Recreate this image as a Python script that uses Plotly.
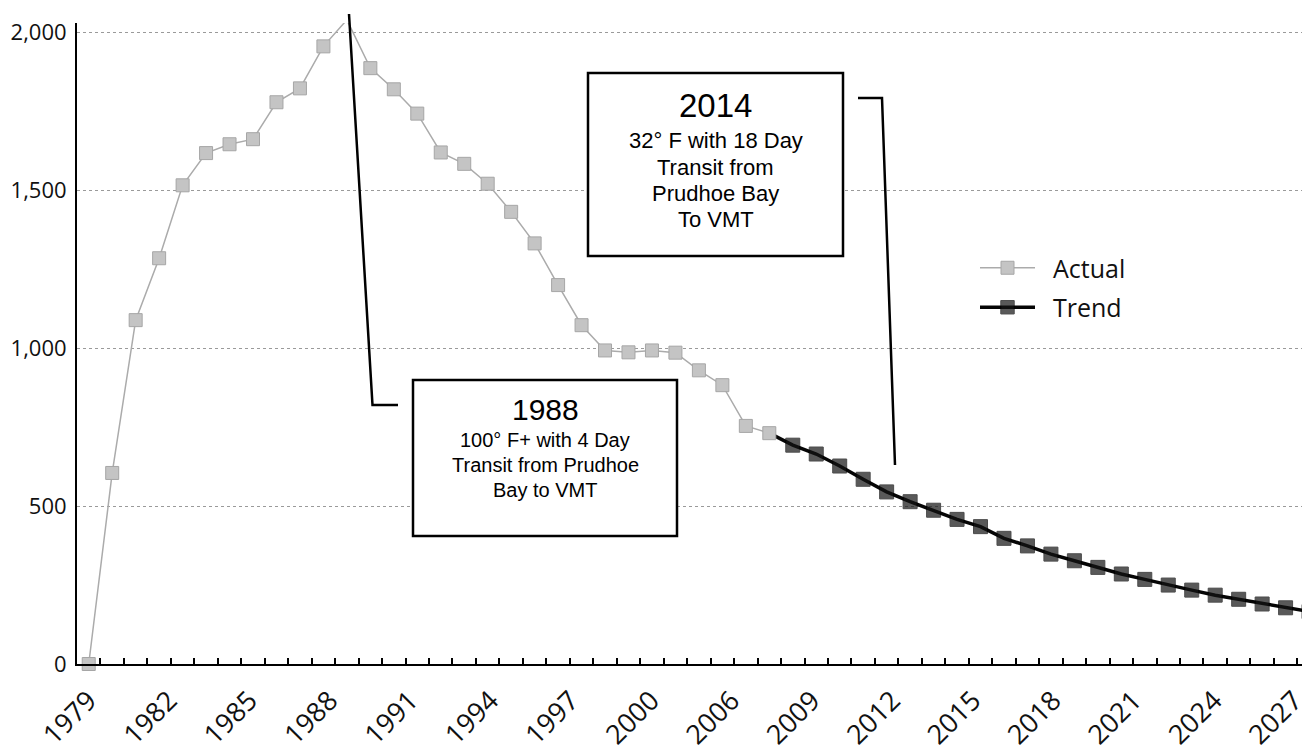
import numpy as np
import plotly.graph_objects as go

# ---------------- data ----------------
actual_index = list(range(0, 30))
actual_values = [0, 605, 1089, 1285, 1516, 1618, 1646, 1662, 1779, 1823,
                 1956, 2040, 1887, 1820, 1743, 1620, 1584, 1521, 1432, 1332,
                 1200, 1073, 993, 987, 993, 986, 930, 883, 754, 731]

trend_index = list(range(29, 53))
trend_values = [731, 693, 665, 627, 585, 545, 514, 487, 458, 435,
                398, 374, 348, 327, 306, 285, 268, 250, 234, 218,
                205, 190, 178, 166]

year_labels = ["1979", "1982", "1985", "1988", "1991", "1994", "1997", "2000",
               "2006", "2009", "2012", "2015", "2018", "2021", "2024", "2027"]

y_ticks = [0, 500, 1000, 1500, 2000]
y_tick_text = ["0", "500", "1,000", "1,500", "2,000"]

box_2014_lines = ["2014", "32° F with 18 Day", "Transit from", "Prudhoe Bay", "To VMT"]
box_1988_lines = ["1988", "100° F+ with 4 Day", "Transit from Prudhoe", "Bay to VMT"]

# ---------------- layout geometry ----------------
OFF = 8                      # page body margin in the browser
W_FIG, H_FIG = 1310 - OFF, 755 - OFF
L, T, B = 77 - OFF, 23 - OFF, 664 - OFF
R = W_FIG
PW, PH = R - L, B - T
X_MIN, X_MAX = -0.5, 52.04
Y_MIN, Y_MAX = 0, 2030


def px(x):
    """window pixel x -> paper coordinate"""
    return (x - OFF - L) / PW


def py(y):
    """window pixel y -> paper coordinate"""
    return (B - (y - OFF)) / PH


label_pos = list(np.linspace(0.0, 15 * 3.425, len(year_labels)))

fig = go.Figure()

fig.add_trace(go.Scatter(
    x=trend_index, y=trend_values, name="\u00a0\u00a0Trend", mode="lines+markers",
    line=dict(color="#050505", width=3.5),
    marker=dict(symbol="square", size=[0] + [14] * (len(trend_index) - 1),
                color="#141414", line=dict(color="#000000", width=1)),
    legendrank=2, legendgroup="trend", cliponaxis=False,
))

fig.add_trace(go.Scatter(
    x=actual_index, y=actual_values, name="\u00a0\u00a0Actual", mode="lines+markers",
    line=dict(color="#ababab", width=1.5),
    marker=dict(symbol="square", size=13, color="#c4c4c4",
                line=dict(color="#a6a6a6", width=1)),
    legendrank=1, legendgroup="actual", cliponaxis=False,
))

shapes = []
# 2014 box + callout
shapes.append(dict(type="rect", xref="paper", yref="paper",
                   x0=px(588), x1=px(843), y0=py(256), y1=py(73),
                   line=dict(color="black", width=2.5), fillcolor="white", layer="above"))
shapes.append(dict(type="path", xref="paper", yref="paper",
                   path=f"M {px(858)},{py(98)} L {px(882)},{py(98)} L {px(895)},{py(465)}",
                   line=dict(color="black", width=2.5), layer="above"))
# 1988 box + callout
shapes.append(dict(type="rect", xref="paper", yref="paper",
                   x0=px(413), x1=px(677), y0=py(536), y1=py(380),
                   line=dict(color="black", width=2.5), fillcolor="white", layer="above"))
shapes.append(dict(type="path", xref="paper", yref="paper",
                   path=f"M {px(349)},{py(14)} L {px(372.5)},{py(405)} L {px(398)},{py(405)}",
                   line=dict(color="black", width=2.5), layer="above"))

annotations = []
ys_2014 = [105, 140, 167, 193, 219]
sz_2014 = [33, 22, 22, 22, 22]
for txt, yy, sz in zip(box_2014_lines, ys_2014, sz_2014):
    annotations.append(dict(xref="paper", yref="paper", x=px(715.5), y=py(yy),
                            text=txt, showarrow=False, xanchor="center", yanchor="middle",
                            font=dict(family="Liberation Sans, Arial", size=sz, color="black")))
ys_1988 = [410, 440, 465, 490]
sz_1988 = [30, 20, 20, 20]
for txt, yy, sz in zip(box_1988_lines, ys_1988, sz_1988):
    annotations.append(dict(xref="paper", yref="paper", x=px(545), y=py(yy),
                            text=txt, showarrow=False, xanchor="center", yanchor="middle",
                            font=dict(family="Liberation Sans, Arial", size=sz, color="black")))

fig.update_layout(
    width=W_FIG, height=H_FIG, autosize=False,
    margin=dict(l=L, r=W_FIG - R, t=T, b=H_FIG - B, pad=0),
    plot_bgcolor="white", paper_bgcolor="white",
    font=dict(family="Open Sans, Noto Sans, sans-serif", color="#111111"),
    shapes=shapes, annotations=annotations,
    legend=dict(x=px(975), y=py(245), xanchor="left", yanchor="top",
                font=dict(size=25, family="Open Sans", color="#111111"),
                bgcolor="rgba(0,0,0,0)", itemwidth=55, tracegroupgap=4),
    xaxis=dict(range=[X_MIN, X_MAX], showgrid=False, zeroline=False, automargin=False,
               showline=True, linecolor="black", linewidth=2,
               tickmode="array", tickvals=label_pos, ticktext=year_labels,
               tickangle=-45, ticks="", ticklabelstandoff=8,
               ticklabeloverflow="allow",
               tickfont=dict(size=27, family="Open Sans", color="#111111"),
               minor=dict(tickmode="array",
                          tickvals=[i + 0.5 for i in range(0, 53)],
                          ticks="inside", ticklen=6, tickwidth=1.5,
                          tickcolor="black", showgrid=False)),
    yaxis=dict(range=[Y_MIN, Y_MAX], showgrid=True, gridcolor="#9a9a9a", automargin=False,
               griddash="dot", gridwidth=1, zeroline=False,
               showline=True, linecolor="black", linewidth=2,
               tickmode="array", tickvals=y_ticks, ticktext=y_tick_text,
               ticks="", ticklabelstandoff=4,
               tickfont=dict(size=22, family="Open Sans", color="#111111")),
)

fig.write_html("out.html")
